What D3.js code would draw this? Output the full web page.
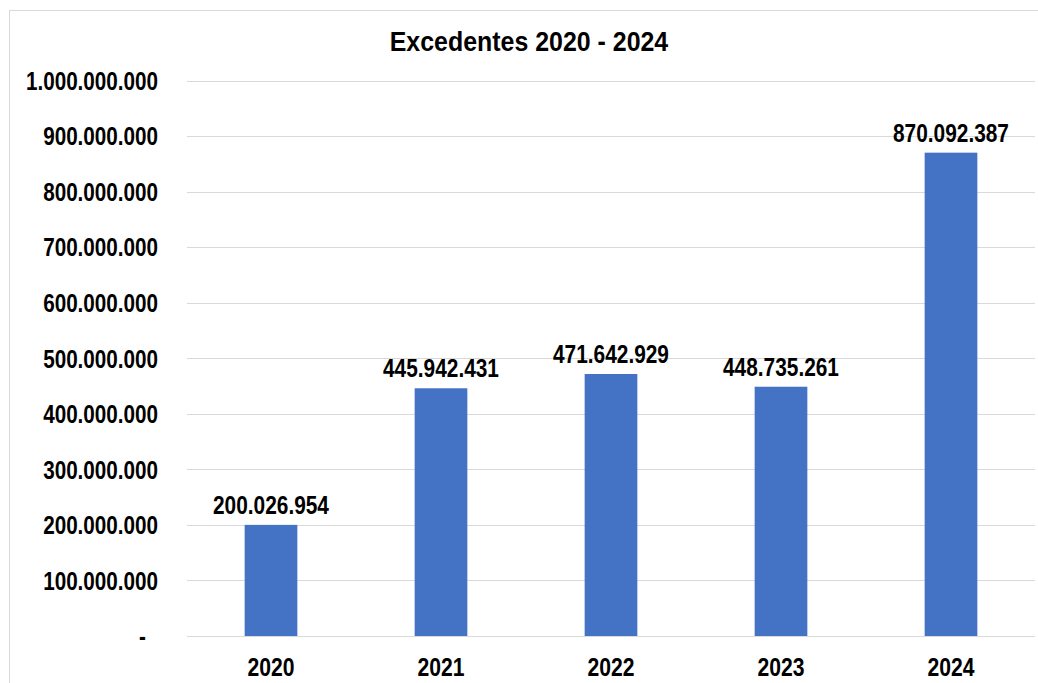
<!DOCTYPE html>
<html><head><meta charset="utf-8">
<script src="https://cdn.jsdelivr.net/npm/d3@7"></script>
<style>
html,body{margin:0;padding:0;background:#fff;}
text{font-family:"Liberation Sans",Arial,sans-serif;font-weight:bold;fill:#000;}
</style></head>
<body><svg id="c" width="1038" height="683"></svg>
<script>
const title = "Excedentes 2020 - 2024";
const categories = ["2020","2021","2022","2023","2024"];
const values = [200026954, 445942431, 471642929, 448735261, 870092387];
const tickValues = [0,100000000,200000000,300000000,400000000,500000000,600000000,700000000,800000000,900000000,1000000000];

const svg = d3.select("#c");
const loc = d3.formatLocale({decimal:",",thousands:".",grouping:[3],currency:["",""]});
const fmt = v => v === 0 ? "-" : loc.format(",d")(v);

// emulate a narrow bold face by condensing the glyphs
function squeeze(sel, k){
  sel.each(function(){
    const L = this.getComputedTextLength();
    this.setAttribute("textLength", L*k);
    this.setAttribute("lengthAdjust","spacingAndGlyphs");
  });
}

// frame
svg.append("rect").attr("x",9.5).attr("y",10.5).attr("width",1040).attr("height",700)
  .attr("fill","none").attr("stroke","#d9d9d9").attr("stroke-width",1);

const x = d3.scaleBand().domain(categories).range([186,1036]).padding(0);
const y = d3.scaleLinear().domain([0,1000000000]).range([636,80.5]);
const barW = x.bandwidth()*0.31;

// gridlines
svg.append("g").selectAll("line").data(tickValues).join("line")
  .attr("x1",187).attr("x2",1035)
  .attr("y1",d=>Math.round(y(d))+0.5).attr("y2",d=>Math.round(y(d))+0.5)
  .attr("stroke","#d9d9d9").attr("stroke-width",1);

// y axis labels
const yAxis = d3.axisLeft(y).tickValues(tickValues).tickFormat(fmt).tickSize(0).tickPadding(0);
const gy = svg.append("g").attr("transform","translate(158,0)").call(yAxis);
gy.select(".domain").remove();
gy.selectAll("text").style("font-size","25px").attr("dy","0.35em")
  .attr("font-family",null).call(squeeze,0.826);
gy.selectAll("text").filter(d=>d===0).attr("dx",-12);

// bars
svg.append("g").selectAll("rect").data(values).join("rect")
  .attr("x",(d,i)=>x(categories[i])+x.bandwidth()/2-barW/2)
  .attr("width",barW)
  .attr("y",d=>y(d)).attr("height",d=>y(0)-y(d))
  .attr("fill","#4472C4");

// data labels
svg.append("g").selectAll("text").data(values).join("text")
  .attr("x",(d,i)=>x(categories[i])+x.bandwidth()/2)
  .attr("y",d=>y(d)-11)
  .attr("text-anchor","middle").style("font-size","25px")
  .text(d=>fmt(d)).call(squeeze,0.834);

// x axis labels
const xAxis = d3.axisBottom(x).tickSize(0).tickPadding(0);
const gx = svg.append("g").attr("transform","translate(0,658)").call(xAxis);
gx.select(".domain").remove();
gx.selectAll("text").style("font-size","25px").attr("dy","0.71em")
  .attr("font-family",null).call(squeeze,0.845);

// title
svg.append("text").attr("x",529).attr("y",51).attr("text-anchor","middle")
  .style("font-size","28px").text(title).call(squeeze,0.89);
</script></body></html>
